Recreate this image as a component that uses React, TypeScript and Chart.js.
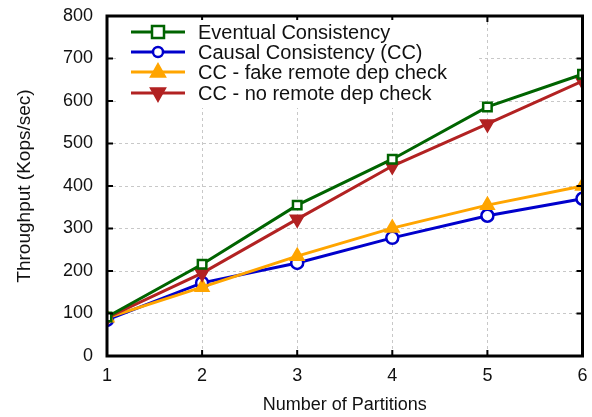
import React, { useEffect, useRef } from "react";
import { Chart, registerables } from "chart.js";
Chart.register(...registerables);

const partitions = [1, 2, 3, 4, 5, 6];
const seriesNames = [
  "Eventual Consistency",
  "Causal Consistency (CC)",
  "CC - fake remote dep check",
  "CC - no remote dep check",
];
const eventual = [92, 216, 355, 463, 586, 663];
const causal = [85, 172, 219, 278, 330, 370];
const fakeCheck = [90, 162, 235, 301, 355, 400];
const noCheck = [90, 195, 322, 447, 546, 647];
const yTicks = [0, 100, 200, 300, 400, 500, 600, 700, 800];

const colors = ["#006400", "#0000cc", "#ffa500", "#b22222"];
const styles: any[] = ["rect", "circle", "triangle", "triangle"];
const rotations = [0, 0, 0, 180];
const fills = ["#ffffff", "#ffffff", "#ffa500", "#b22222"];

const FONT = "'Liberation Sans', Arial, Helvetica, sans-serif";

function drawMarker(ctx: any, style: string, rot: number, x: number, y: number) {
  const r = 6;
  ctx.beginPath();
  if (style === "rect") {
    ctx.rect(x - r, y - r, 2 * r, 2 * r);
  } else if (style === "circle") {
    ctx.arc(x, y, r - 1, 0, Math.PI * 2);
  } else {
    const rr = r + 1.5;
    const s = rot === 180 ? -1 : 1;
    ctx.moveTo(x, y - s * rr);
    ctx.lineTo(x + rr * 0.9, y + s * rr * 0.6);
    ctx.lineTo(x - rr * 0.9, y + s * rr * 0.6);
    ctx.closePath();
  }
  ctx.fill();
  ctx.stroke();
}

const framePlugin = {
  id: "frame",
  afterDatasetsDraw(chart: any) {
    const { ctx, chartArea: a, scales } = chart;
    ctx.save();
    ctx.strokeStyle = "#000";
    ctx.lineWidth = 2;
    const tl = 6;
    ctx.beginPath();
    partitions.forEach((p) => {
      const x = scales.x.getPixelForValue(p);
      ctx.moveTo(x, a.bottom);
      ctx.lineTo(x, a.bottom - tl);
      ctx.moveTo(x, a.top);
      ctx.lineTo(x, a.top + tl);
    });
    yTicks.forEach((v) => {
      const y = scales.y.getPixelForValue(v);
      ctx.moveTo(a.left, y);
      ctx.lineTo(a.left + tl, y);
      ctx.moveTo(a.right, y);
      ctx.lineTo(a.right - tl, y);
    });
    ctx.stroke();
    // legend
    const lx0 = 131, lx1 = 185, mx = 158, tx = 198;
    const ys = [32, 52, 72, 93];
    ctx.fillStyle = "#fff";
    ctx.fillRect(a.left + 12, a.top + 4, 360, 88);
    ctx.font = `20px ${FONT}`;
    ctx.textBaseline = "middle";
    ctx.textAlign = "left";
    seriesNames.forEach((name, i) => {
      const y = ys[i];
      ctx.strokeStyle = colors[i];
      ctx.lineWidth = 3;
      ctx.beginPath();
      ctx.moveTo(lx0, y);
      ctx.lineTo(lx1, y);
      ctx.stroke();
      ctx.fillStyle = fills[i];
      ctx.strokeStyle = colors[i];
      ctx.lineWidth = 2.5;
      drawMarker(ctx, styles[i], rotations[i], mx, y);
      ctx.fillStyle = "#111";
      ctx.fillText(name, tx, y + 1);
    });
    // frame
    ctx.strokeStyle = "#000";
    ctx.lineWidth = 3;
    ctx.strokeRect(a.left, a.top, a.right - a.left, a.bottom - a.top);
    ctx.restore();
  },
};

export default function App() {
  const ref = useRef<HTMLCanvasElement>(null);
  useEffect(() => {
    const all = [eventual, causal, fakeCheck, noCheck];
    const datasets = seriesNames.map((name, i) => ({
      label: name,
      data: partitions.map((p, j) => ({ x: p, y: all[i][j] })),
      borderColor: colors[i],
      backgroundColor: fills[i],
      borderWidth: 3,
      pointStyle: styles[i],
      rotation: rotations[i],
      pointRadius: i >= 2 ? 7 : 6,
      pointBorderWidth: 2.5,
      pointBackgroundColor: fills[i],
      pointBorderColor: colors[i],
      tension: 0,
      order: [1, 4, 3, 2][i],
    }));
    const chart = new Chart(ref.current!, {
      type: "line",
      data: { datasets },
      options: {
        animation: false,
        responsive: false,
        layout: { padding: { left: 0, top: 16, right: 8, bottom: 0 } },
        plugins: { legend: { display: false }, tooltip: { enabled: false } },
        scales: {
          x: {
            type: "linear",
            min: 1,
            max: 6,
            afterFit: (s: any) => { s.height = 61; s.paddingLeft = 0; s.paddingRight = 0; },
            afterBuildTicks: (s: any) => { s.ticks = partitions.map((v) => ({ value: v })); },
            ticks: { color: "#111", font: { family: FONT, size: 18 }, padding: 9 },
            grid: { color: "#c8c8c8", lineWidth: 1, drawTicks: false },
            border: { display: false, dash: [3, 3] },
            title: { display: true, text: "Number of Partitions", color: "#111", font: { family: FONT, size: 18 }, padding: { top: 4, bottom: 1 } },
          },
          y: {
            min: 0,
            max: 800,
            afterFit: (s: any) => { s.width = 107; s.paddingTop = 0; s.paddingBottom = 0; },
            afterBuildTicks: (s: any) => { s.ticks = yTicks.map((v) => ({ value: v })); },
            ticks: { color: "#111", font: { family: FONT, size: 18 }, padding: 14 },
            grid: { color: "#c8c8c8", lineWidth: 1, drawTicks: false },
            border: { display: false, dash: [3, 3] },
            title: { display: true, text: "Throughput (Kops/sec)", color: "#111", font: { family: FONT, size: 19 }, padding: { top: 13, bottom: 0 } },
          },
        },
      },
      plugins: [framePlugin],
    });
    return () => chart.destroy();
  }, []);
  return (
    <div style={{ position: "fixed", left: 0, top: 0, width: 592, height: 417, background: "#fff" }}>
      <canvas ref={ref} width={592} height={417} style={{ width: 592, height: 417 }} />
    </div>
  );
}
